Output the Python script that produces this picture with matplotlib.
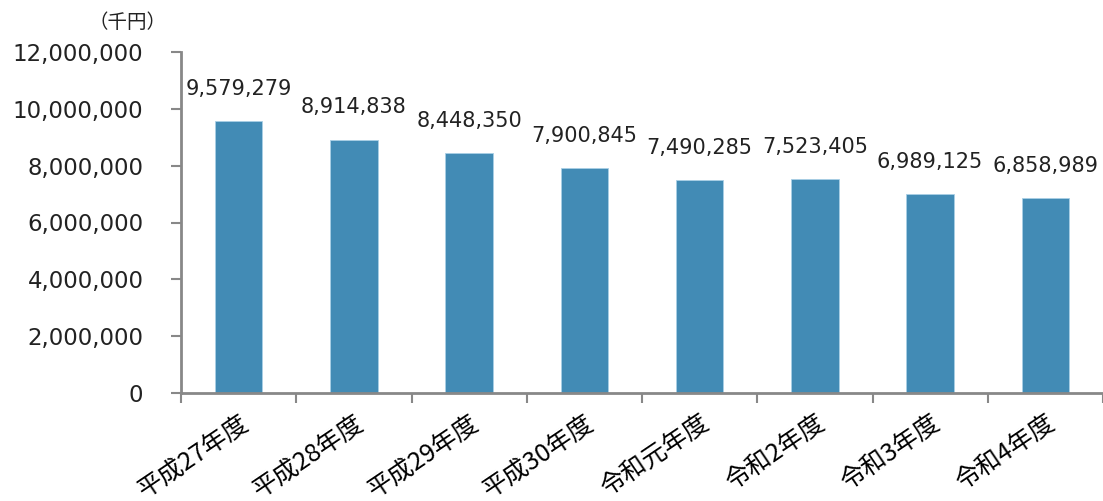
import numpy as np
import matplotlib
matplotlib.use('Agg')
import matplotlib.pyplot as plt

plt.rcParams['font.family'] = ['DejaVu Sans', 'Noto Sans CJK JP']

categories = ['平成27年度', '平成28年度', '平成29年度', '平成30年度',
              '令和元年度', '令和2年度', '令和3年度', '令和4年度']
values = [9579279, 8914838, 8448350, 7900845, 7490285, 7523405, 6989125, 6858989]
yticks = [0, 2000000, 4000000, 6000000, 8000000, 10000000, 12000000]

fig = plt.figure(figsize=(11.03, 5.01), dpi=100)
ax = fig.add_axes([181 / 1103, 1 - 393 / 501, (1103 - 181) / 1103, (393 - 52) / 501])

x = np.arange(len(categories))
ax.bar(x, values, width=0.41, color='#428BB5', edgecolor='#A9CFE6', linewidth=0.6)

for xi, v in zip(x, values):
    ax.annotate(f'{v:,}', (xi, v), xytext=(0, 16), textcoords='offset points',
                ha='center', va='bottom', fontsize=15, color='#222222')

ax.set_ylim(0, 12000000)
ax.set_xlim(-0.5, 7.45)
ax.set_yticks(yticks)
ax.set_yticklabels([f'{t:,}' for t in yticks], fontsize=16.5, color='#222222')

ax.set_xticks(np.arange(len(categories) + 1) - 0.5)
ax.set_xticklabels([])
ax.set_xticks(x, minor=True)
ax.set_xticklabels(categories, minor=True, rotation=34, ha='right', va='top',
                   rotation_mode='anchor', fontsize=18, family='Noto Sans CJK JP')
ax.tick_params(axis='x', which='minor', length=0, pad=12)
ax.tick_params(axis='x', which='major', length=7, color='#888888', width=1.5)
ax.tick_params(axis='y', length=7, color='#888888', width=1.5, pad=20)

for s in ['top', 'right']:
    ax.spines[s].set_visible(False)
for s in ['left', 'bottom']:
    ax.spines[s].set_color('#888888')
    ax.spines[s].set_linewidth(2)

fig.text(128 / 1103, 1 - 22 / 501, '（千円）', ha='center', va='center',
         fontsize=14, family='Noto Sans CJK JP', color='#222222')

fig.savefig('out.png', dpi=100)
